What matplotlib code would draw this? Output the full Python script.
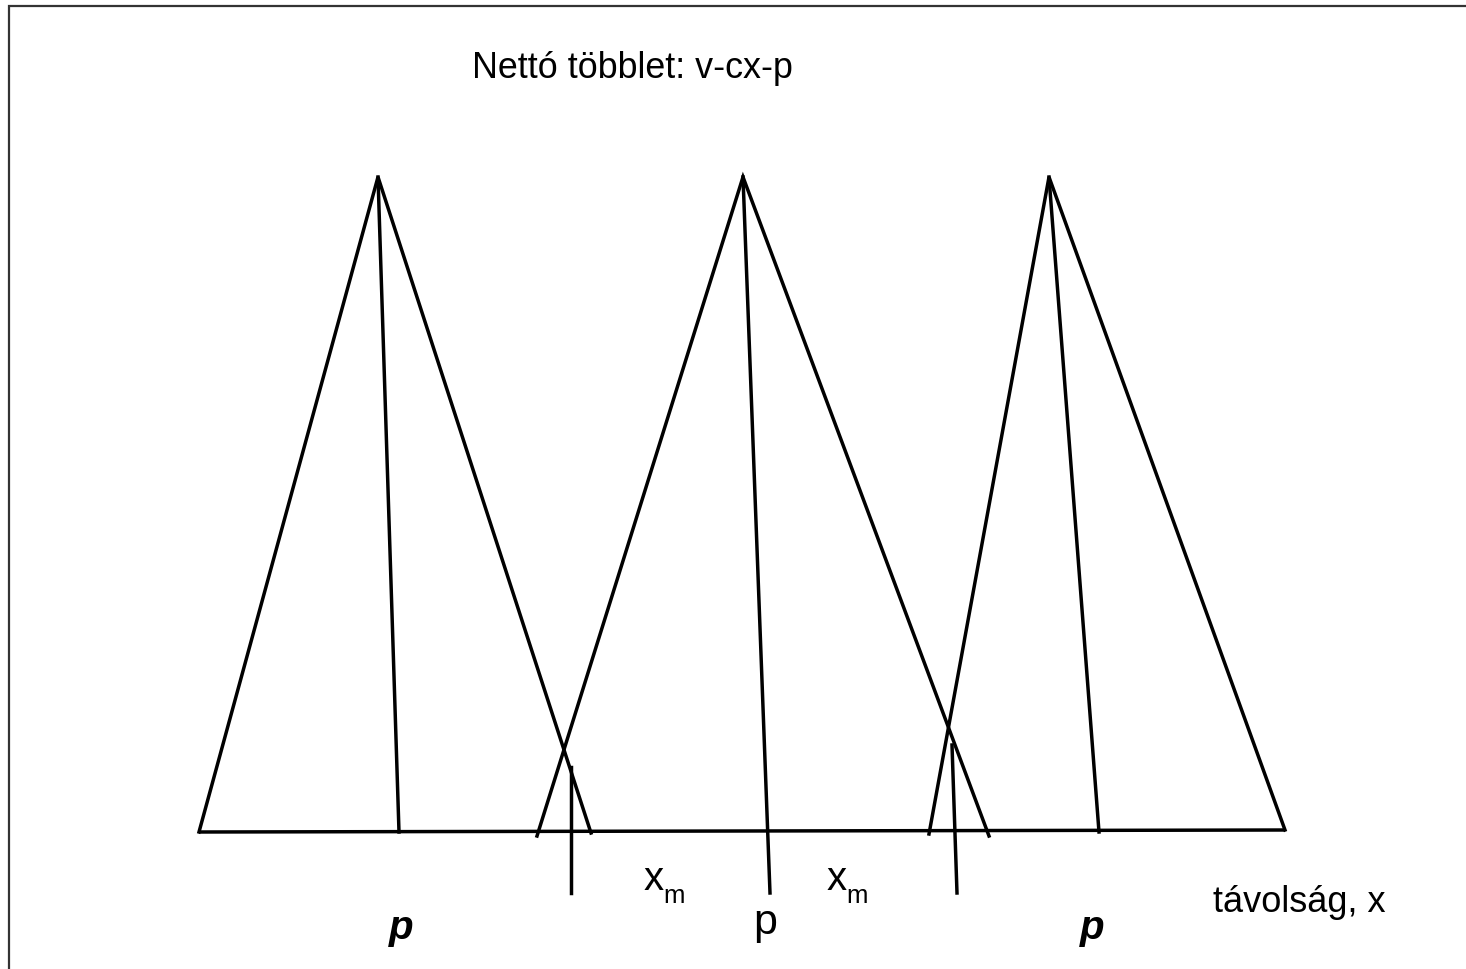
import matplotlib
matplotlib.use("Agg")
import matplotlib.pyplot as plt

plt.rcParams['font.family'] = ['Liberation Sans', 'DejaVu Sans']

# Diagram geometry (pixel-space coordinates)
apex_x = [378, 743, 1049]
apex_y = [178, 178, 178]
base_left = [(199, 833), (537, 837), (929, 835)]
base_right = [(591, 834), (989, 837), (1285, 831)]
price_foot = [(399, 833), (770, 894), (1099, 833)]
xm_lines = [((571, 768), (571, 894)), ((952, 746), (957, 894))]
baseline_pts = [(199, 833), (1285, 831)]

title_text = "Nettó többlet: v-cx-p"
axis_text = "távolság, x"

fig = plt.figure(figsize=(14.66, 9.70), dpi=100)
ax = fig.add_axes([0, 0, 1, 1])
ax.set_xlim(0, 1466)
ax.set_ylim(970, 0)
ax.axis('off')

# frame (right and bottom edges lie outside the image)
ax.plot([8.5, 8.5, 1470], [975, 6.5, 6.5], color='#333333', lw=1.6,
        solid_joinstyle='miter', clip_on=False)

lw = 2.5
col = 'black'
ax.plot([baseline_pts[0][0], baseline_pts[1][0]], [baseline_pts[0][1], baseline_pts[1][1]],
        color=col, lw=lw, solid_capstyle='butt')
for i in range(3):
    ax.plot([base_left[i][0], apex_x[i], base_right[i][0]],
            [base_left[i][1], apex_y[i], base_right[i][1]],
            color=col, lw=lw, solid_joinstyle='miter')
    ax.plot([apex_x[i], price_foot[i][0]], [apex_y[i], price_foot[i][1]],
            color=col, lw=lw)
for (p0, p1) in xm_lines:
    ax.plot([p0[0], p1[0]], [p0[1], p1[1]], color=col, lw=lw)

ax.text(472, 78, title_text, fontsize=25.8, ha='left', va='baseline')
ax.text(1213, 912, axis_text, fontsize=26, ha='left', va='baseline')

# x_m labels
for xl in [645, 828]:
    ax.text(xl - 1, 890, "x", fontsize=29, ha='left', va='baseline')
    ax.text(xl + 18, 903, "m", fontsize=18.5, ha='left', va='baseline')

ax.text(765, 934, "p", fontsize=31, ha='center', va='baseline')
ax.text(401, 939, "p", fontsize=29, ha='center', va='baseline',
        fontweight='bold', fontstyle='italic')
ax.text(1092, 939, "p", fontsize=29, ha='center', va='baseline',
        fontweight='bold', fontstyle='italic')

fig.savefig("out.png", dpi=100)
